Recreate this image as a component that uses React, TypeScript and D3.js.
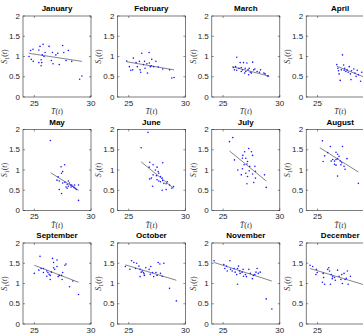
import React from 'react';
import * as d3 from 'd3';

// monthly scatter: x = mean temperature, y = S1(t)
const months = ['January', 'February', 'March', 'April', 'May', 'June', 'July', 'August', 'September', 'October', 'November', 'December'];

const jan = [[24.53, 1.0], [24.67, 1.15], [24.88, 1.18], [24.73, 0.93], [24.9, 0.88], [25.4, 1.16], [25.4, 0.85], [25.6, 0.92], [25.65, 0.85], [25.6, 0.77], [25.5, 1.25], [25.77, 1.3], [25.7, 1.04], [25.95, 1.1], [25.85, 1.0], [26.3, 1.25], [26.6, 1.1], [26.5, 0.9], [26.65, 0.82], [26.9, 1.04], [27.07, 1.08], [27.2, 0.8], [27.5, 1.27], [27.6, 1.1], [28.0, 1.15], [27.8, 0.9], [28.3, 0.88], [29.0, 0.44], [29.2, 0.52]];
const feb = [[24.82, 0.89], [25.06, 0.75], [25.18, 0.66], [25.41, 0.96], [25.35, 0.67], [25.65, 0.85], [25.76, 0.75], [25.94, 0.88], [26.0, 0.67], [26.06, 0.61], [26.15, 1.08], [26.3, 0.8], [26.4, 0.88], [26.44, 0.71], [26.6, 0.82], [26.65, 0.59], [26.8, 1.1], [26.82, 0.84], [26.9, 0.75], [27.0, 0.77], [27.03, 0.93], [27.2, 0.75], [27.4, 0.88], [27.6, 0.74], [28.0, 0.69], [28.6, 0.67], [28.8, 0.47], [29.0, 0.48]];
const mar = [[25.9, 0.73], [26.0, 0.67], [26.1, 0.75], [26.2, 0.98], [26.2, 0.66], [26.4, 0.71], [26.5, 0.85], [26.6, 0.63], [26.6, 0.73], [26.7, 0.67], [26.8, 0.85], [26.9, 0.59], [26.95, 0.71], [27.0, 0.63], [27.1, 0.84], [27.2, 0.67], [27.25, 0.55], [27.3, 0.71], [27.4, 0.61], [27.5, 0.59], [27.6, 0.86], [27.7, 0.67], [27.8, 0.69], [28.0, 0.63], [28.2, 0.61], [28.3, 0.67], [28.6, 0.59], [28.7, 0.57], [28.9, 0.52], [29.0, 0.52]];
const apr = [[26.7, 0.8], [26.8, 0.71], [26.85, 0.65], [26.9, 0.57], [27.0, 0.41], [27.1, 0.67], [27.2, 1.04], [27.3, 0.79], [27.35, 0.66], [27.4, 0.71], [27.5, 0.63], [27.6, 0.67], [27.7, 0.61], [27.8, 0.75], [27.9, 0.57], [27.95, 0.43], [28.0, 0.65], [28.2, 0.69], [28.3, 0.59], [28.4, 0.51], [28.5, 0.66], [28.6, 0.55], [28.8, 0.39], [28.9, 0.61]];
const may = [[26.42, 1.73], [27.67, 1.13], [27.36, 1.08], [27.5, 0.96], [27.4, 0.92], [27.1, 0.83], [27.0, 0.75], [27.2, 0.73], [27.5, 0.68], [27.7, 0.7], [27.9, 0.65], [28.0, 0.73], [28.1, 0.68], [28.2, 0.63], [28.25, 0.58], [28.3, 0.63], [28.4, 0.6], [28.5, 0.57], [28.55, 0.63], [28.6, 0.55], [28.7, 0.52], [28.9, 0.63], [27.9, 0.55], [27.2, 0.52], [27.4, 0.42], [28.9, 0.25], [27.8, 0.58], [28.0, 0.6]];
const jun = [[26.7, 1.93], [26.1, 1.55], [26.85, 1.19], [28.0, 1.18], [27.15, 1.13], [26.8, 1.07], [27.5, 1.07], [27.35, 1.0], [27.6, 0.96], [27.65, 0.92], [27.15, 0.88], [27.45, 0.86], [27.8, 0.84], [27.95, 0.8], [27.0, 0.8], [26.85, 0.78], [27.5, 0.76], [27.65, 0.73], [27.8, 0.71], [28.0, 0.74], [28.1, 0.67], [28.3, 0.66], [28.4, 0.71], [28.6, 0.63], [27.95, 0.5], [28.3, 0.52], [27.1, 0.6], [28.8, 0.55], [28.95, 0.59]];
const jul = [[25.85, 1.8], [25.56, 1.7], [27.26, 1.53], [26.9, 1.45], [27.5, 1.45], [27.6, 1.36], [26.74, 1.36], [26.7, 1.29], [27.0, 1.29], [26.0, 1.25], [27.15, 1.21], [27.1, 1.15], [26.85, 1.13], [26.7, 1.03], [27.35, 1.09], [27.8, 1.09], [26.3, 1.0], [27.3, 0.98], [27.85, 0.97], [27.0, 0.92], [27.6, 0.9], [26.6, 0.88], [27.15, 0.84], [27.85, 0.8], [27.7, 0.69], [28.65, 0.88], [28.8, 0.57], [27.1, 0.66]];
const aug = [[25.43, 1.72], [26.14, 1.58], [27.2, 1.58], [25.63, 1.35], [25.9, 1.43], [26.63, 1.44], [26.77, 1.39], [26.34, 1.26], [26.5, 1.22], [26.63, 1.26], [26.77, 1.28], [26.9, 1.34], [27.0, 1.22], [27.14, 1.18], [27.06, 1.13], [26.63, 1.12], [26.2, 1.22], [25.49, 1.21], [27.34, 1.09], [27.6, 1.28], [27.43, 1.02], [26.77, 0.85], [26.5, 1.14], [28.6, 0.67]];
const sep = [[25.0, 1.25], [25.5, 1.67], [26.6, 1.62], [27.0, 1.58], [26.7, 1.52], [25.4, 1.33], [25.6, 1.37], [25.8, 1.37], [25.8, 1.27], [26.1, 1.31], [26.2, 1.27], [26.3, 1.23], [26.4, 1.2], [26.4, 1.1], [26.5, 1.28], [26.7, 1.39], [26.8, 1.35], [27.0, 1.42], [27.2, 1.2], [27.1, 1.17], [27.4, 1.2], [27.45, 1.1], [27.7, 1.45], [27.8, 1.48], [27.5, 1.27], [28.4, 1.06], [28.1, 0.92], [28.9, 0.73], [26.1, 1.18]];
const oct = [[24.7, 1.42], [25.1, 1.35], [25.25, 1.56], [25.45, 1.52], [25.7, 1.5], [25.6, 1.37], [25.9, 1.43], [26.0, 1.35], [26.1, 1.28], [26.2, 1.31], [26.3, 1.27], [26.35, 1.24], [26.38, 1.2], [26.0, 1.17], [26.5, 1.39], [26.8, 1.35], [26.95, 1.42], [26.9, 1.23], [27.1, 1.27], [27.2, 1.17], [27.4, 1.27], [27.5, 1.2], [27.6, 1.52], [27.75, 1.48], [27.8, 1.25], [27.95, 1.18], [28.1, 1.5], [28.6, 0.88], [29.2, 0.57]];
const nov = [[24.2, 1.56], [25.06, 1.47], [25.15, 1.37], [25.3, 1.43], [25.36, 1.31], [25.6, 1.56], [25.65, 1.35], [25.8, 1.31], [25.97, 1.37], [26.06, 1.28], [26.2, 1.22], [26.27, 1.37], [26.36, 1.43], [26.45, 1.31], [26.5, 1.25], [26.67, 1.28], [26.76, 1.35], [26.8, 1.18], [26.97, 1.22], [27.06, 1.17], [26.27, 0.98], [27.27, 1.35], [27.4, 1.25], [27.58, 1.12], [27.8, 1.22], [27.9, 1.28], [28.0, 1.37], [28.1, 1.25], [28.27, 1.28], [27.67, 1.2], [28.8, 0.62], [29.3, 0.37]];
const dec = [[24.34, 1.45], [24.57, 1.42], [24.9, 1.35], [24.97, 1.27], [24.86, 1.22], [25.5, 1.25], [25.54, 1.15], [25.43, 1.03], [25.63, 0.98], [25.9, 1.35], [26.0, 1.39], [26.06, 1.31], [26.2, 1.22], [26.3, 1.12], [26.34, 1.17], [26.14, 0.98], [26.5, 1.15], [26.57, 1.08], [26.77, 1.33], [26.9, 1.18], [27.06, 1.1], [27.14, 1.22], [27.2, 1.0], [27.43, 1.1], [27.54, 1.13], [27.63, 1.31], [27.7, 0.98], [27.34, 1.25], [27.9, 1.18]];

const monthPoints = [jan, feb, mar, apr, may, jun, jul, aug, sep, oct, nov, dec];

// least-squares line end points
const fitStart = [[24.5, 1.08], [24.82, 0.87], [25.8, 0.75], [26.7, 0.76], [26.45, 0.93], [26.1, 1.2], [25.56, 1.47], [25.2, 1.55], [25.0, 1.45], [24.7, 1.46], [24.2, 1.52], [24.34, 1.37]];
const fitEnd = [[29.2, 0.88], [29.0, 0.67], [29.0, 0.52], [29.3, 0.47], [28.9, 0.5], [28.95, 0.55], [28.8, 0.73], [28.6, 0.95], [28.9, 1.03], [29.2, 1.08], [29.3, 1.06], [29.2, 0.96]];

const xTicks = [25, 30];
const yTicks = [0, 0.5, 1, 1.5, 2];

const W = 363;
const H = 333;
const panelW = 68;
const panelH = 81;
const axisColor = '#262626';
const sans = 'Liberation Sans, Arial, sans-serif';
const serif = 'Liberation Serif, Times New Roman, serif';

const Panel = ({ index }: { index: number }) => {
  const col = index % 4;
  const row = Math.floor(index / 4);
  const left = 23 + col * 94.4;
  const top = 16 + row * 113.5;

  const x = d3.scaleLinear().domain([24, 30]).range([0, panelW]);
  const y = d3.scaleLinear().domain([0, 2]).range([panelH, 0]);
  const line = d3.line<number[]>().x(d => x(d[0])).y(d => y(d[1]));

  return (
    <g transform={`translate(${left},${top})`}>
      <text x={panelW / 2} y={-5} textAnchor="middle" fontFamily={sans} fontWeight="bold" fontSize={8} fill="#000">
        {months[index]}
      </text>

      {/* ticks, pointing inward, mirrored on top/right */}
      {yTicks.map(t => (
        <g key={'y' + t}>
          <line x1={0} x2={2} y1={y(t)} y2={y(t)} stroke={axisColor} strokeWidth={0.5} />
          <line x1={panelW} x2={panelW - 2} y1={y(t)} y2={y(t)} stroke={axisColor} strokeWidth={0.5} />
          <text x={-3} y={y(t)} dy="0.33em" textAnchor="end" fontFamily={sans} fontSize={8} fill={axisColor}>
            {t}
          </text>
        </g>
      ))}
      {xTicks.map(t => (
        <g key={'x' + t}>
          <line x1={x(t)} x2={x(t)} y1={panelH} y2={panelH - 2} stroke={axisColor} strokeWidth={0.5} />
          <line x1={x(t)} x2={x(t)} y1={0} y2={2} stroke={axisColor} strokeWidth={0.5} />
          <text x={x(t)} y={panelH + 8.5} textAnchor="middle" fontFamily={sans} fontSize={8} fill={axisColor}>
            {t}
          </text>
        </g>
      ))}

      <path d={line([fitStart[index], fitEnd[index]]) || ''} stroke="#333" strokeWidth={0.6} fill="none" />

      {monthPoints[index].map((d, i) => (
        <circle key={i} cx={x(d[0])} cy={y(d[1])} r={0.8} fill="#1a1aff" />
      ))}

      <rect x={0} y={0} width={panelW} height={panelH} fill="none" stroke={axisColor} strokeWidth={0.6} />

      <text
        transform={`translate(-16,${panelH / 2}) rotate(-90)`}
        textAnchor="middle"
        fontFamily={serif}
        fontSize={8}
        fill="#333"
      >
        <tspan fontStyle="italic">S</tspan>
        <tspan fontSize={6} dy={1.5}>1</tspan>
        <tspan dy={-1.5}>(</tspan>
        <tspan fontStyle="italic">t</tspan>
        <tspan>)</tspan>
      </text>

      <text x={panelW / 2} y={panelH + 17} textAnchor="middle" fontFamily={serif} fontSize={8} fill="#333">
        <tspan fontStyle="italic">{'T\u0304'}</tspan>
        <tspan>(</tspan>
        <tspan fontStyle="italic">t</tspan>
        <tspan>)</tspan>
      </text>
    </g>
  );
};

export default function App() {
  return (
    <svg
      width={W}
      height={H}
      style={{ position: 'absolute', left: 0, top: 0, background: '#fff', overflow: 'hidden' }}
    >
      {months.map((m, i) => (
        <Panel key={m} index={i} />
      ))}
    </svg>
  );
}
